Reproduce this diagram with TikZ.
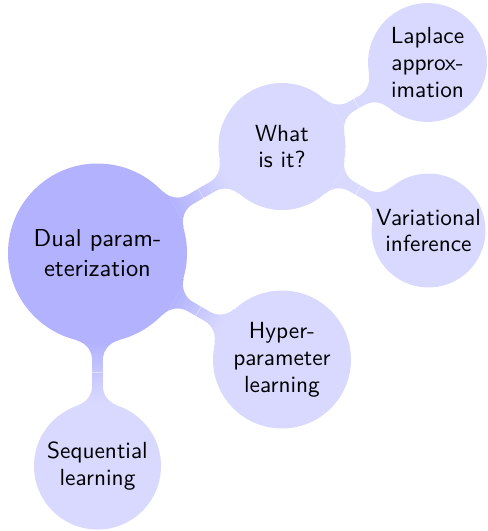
\documentclass[tikz,border=0pt]{standalone}
\pgfdeclarelayer{background}
\pgfsetlayers{background,main}
\newcommand\conbar[4]{%
  \pgfpointdiff{\pgfpointanchor{#1}{center}}{\pgfpointanchor{#2}{center}}%
  \pgfgetlastxy{\cbdx}{\cbdy}%
  \pgfmathsetmacro\cbL{veclen(\cbdx,\cbdy)}%
  \pgfmathsetmacro\cbA{atan2(\cbdy,\cbdx)}%
  \pgfpointdiff{\pgfpointanchor{#1}{center}}{\pgfpointanchor{#1}{east}}%
  \pgfgetlastxy{\cbdx}{\cbdy}%
  \pgfmathsetmacro\cbRa{veclen(\cbdx,\cbdy)}%
  \pgfpointdiff{\pgfpointanchor{#2}{center}}{\pgfpointanchor{#2}{east}}%
  \pgfgetlastxy{\cbdx}{\cbdy}%
  \pgfmathsetmacro\cbRb{veclen(\cbdx,\cbdy)}%
  \pgfmathsetmacro\cbw{2.27}%
  \pgfmathsetmacro\cbf{8.6}%
  \pgfmathsetmacro\cbwf{\cbw+\cbf}%
  \pgfmathsetmacro\cbaA{sqrt((\cbRa+\cbf)^2-(\cbwf)^2)}%
  \pgfmathsetmacro\cbaB{sqrt((\cbRb+\cbf)^2-(\cbwf)^2)}%
  \pgfmathsetmacro\cbtA{atan(\cbwf/\cbaA)}%
  \pgfmathsetmacro\cbtB{atan(\cbwf/\cbaB)}%
  \pgfmathsetmacro\cbsA{-180+\cbtA}%
  \pgfmathsetmacro\cbeA{180-\cbtA}%
  \pgfmathsetmacro\cbmB{-\cbtB}%
  \pgfmathsetmacro\cbxB{\cbL-\cbaB}%
  \pgfmathsetmacro\cbLp{\cbL+1}%
  \pgfmathsetmacro\cbgs{\cbRa}%
  \pgfmathsetmacro\cbge{\cbL-\cbRb}%
  \pgfmathsetmacro\cbmid{(\cbgs+\cbge)/2}%
  \begin{pgfonlayer}{background}
  \begin{scope}[shift={(#1.center)}, rotate=\cbA]
    \begin{scope}
    \path[clip] (0pt,0pt) -- ([shift={(\cbaA pt,\cbwf pt)}]\cbsA:\cbf pt)
      arc[start angle=\cbsA, end angle=-90, radius=\cbf pt]
      -- (\cbxB pt,\cbw pt)
      arc[start angle=-90, end angle=\cbmB, radius=\cbf pt]
      -- (\cbL pt,0pt)
      -- ([shift={(\cbxB pt,-\cbwf pt)}]\cbtB:\cbf pt)
      arc[start angle=\cbtB, end angle=90, radius=\cbf pt]
      -- (\cbaA pt,-\cbw pt)
      arc[start angle=90, end angle=\cbeA, radius=\cbf pt]
      -- cycle;
    \fill[blue!#3] (-1pt,-60pt) rectangle (\cbgs pt,60pt);
    \fill[blue!#4] (\cbge pt,-60pt) rectangle (\cbLp pt,60pt);
    \foreach \i in {0,...,23}{%
      \pgfmathsetmacro\cbxa{\cbgs+(\cbge-\cbgs)*\i/24}%
      \pgfmathsetmacro\cbxb{\cbgs+(\cbge-\cbgs)*(\i+1)/24+0.15}%
      \pgfmathsetmacro\cbcv{#3+(#4-#3)*(\i+0.5)/24}%
      \fill[blue!\cbcv] (\cbxa pt,-60pt) rectangle (\cbxb pt,60pt);
    }
    \draw[white, opacity=0.5, line width=0.25pt] (\cbmid pt,-20pt) -- (\cbmid pt,20pt);
    \end{scope}
  \end{scope}
  \end{pgfonlayer}%
}
\begin{document}
\begin{tikzpicture}[x=0.429pt,y=-0.429pt,
  concept/.style={circle, inner sep=0pt, align=center, font=\sffamily\fontsize{10}{11.5}\selectfont, fill=blue!15},
  rootconcept/.style={concept, fill=blue!30, minimum size=76.8pt, font=\sffamily\fontsize{10.5}{12.9}\selectfont}]
\useasboundingbox (0,0) rectangle (488,531);
\node[rootconcept] (root) at (97.5,253) {Dual param-\\eterization};
\node[concept, minimum size=54.5pt] (what) at (282,146.5) {What\\is it?};
\node[concept, minimum size=59.2pt] (hyper) at (282,359.5) {Hyper-\\parameter\\learning};
\node[concept, minimum size=54.5pt] (seq) at (97.5,466) {Sequential\\learning};
\node[concept, minimum size=51pt] (lap) at (427.5,62.5) {Laplace\\approx-\\imation};
\node[concept, minimum size=48.9pt] (var) at (428.5,230.5) {Variational\\inference};
\conbar{root}{what}{30}{15}
\conbar{root}{hyper}{30}{15}
\conbar{root}{seq}{30}{15}
\conbar{what}{lap}{15}{15}
\conbar{what}{var}{15}{15}
\end{tikzpicture}
\end{document}
